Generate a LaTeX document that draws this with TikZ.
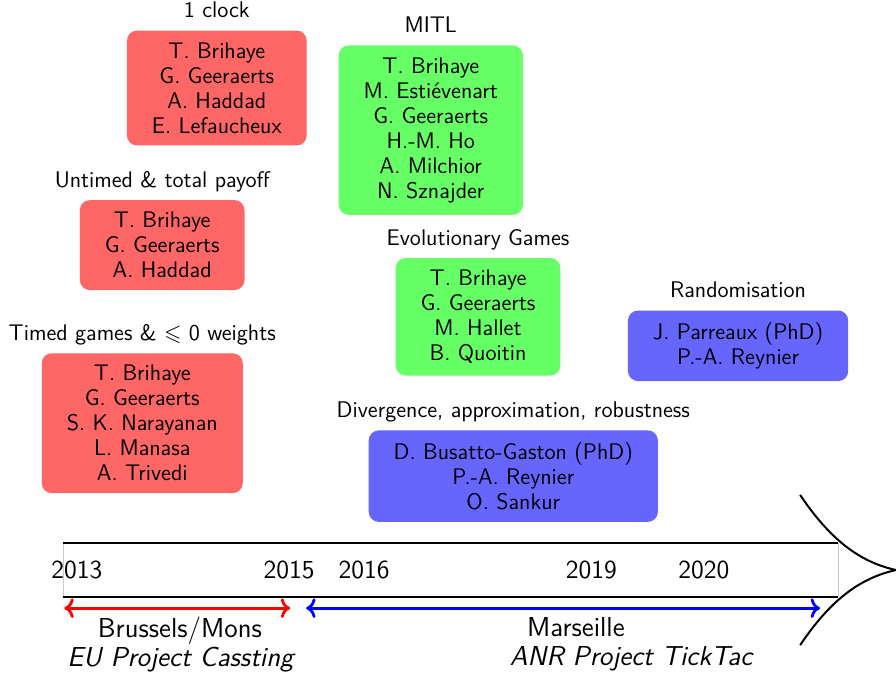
\documentclass[tikz,border=0pt]{standalone}
\usepackage{amsmath, amssymb}
\usepackage{xcolor}
\usepackage{tikz}
\usetikzlibrary{
arrows.meta,
positioning
}
\renewcommand{\familydefault}{\sfdefault}
\definecolor{tlred}{RGB}{255,102,102}
\definecolor{tlgreen}{RGB}{102,255,102}
\definecolor{tlblue}{RGB}{102,102,255}
\tikzset{
  team/.style={rounded corners=5pt, align=center, inner xsep=12.5pt, inner ysep=6pt,
    font=\fontsize{11.3}{12.5}\selectfont},
  topic/.style={inner sep=3pt, text depth=3pt, font=\fontsize{11.3}{12.5}\selectfont},
  yearlabel/.style={anchor=base, font=\fontsize{13}{15}\selectfont},
  place/.style={anchor=base, font=\fontsize{13.7}{15}\selectfont}
}

\begin{document}
\begin{tikzpicture}
  \useasboundingbox (0,0) rectangle (15.745,11.827);
  % Brussels/Mons collaborations
  \node[team, fill=tlred] (clock) at (3.81,10.28) {T. Brihaye\\G. Geeraerts\\A. Haddad\\E. Lefaucheux};
  \node[topic, above=0pt of clock] (clockT) {1 clock};
  \node[team, fill=tlred] (untimed) at (2.85,7.52) {T. Brihaye\\G. Geeraerts\\A. Haddad};
  \node[topic, above=0pt of untimed] (untimedT) {Untimed \& total payoff};
  \node[team, fill=tlred] (timed) at (2.50,4.39) {T. Brihaye\\G. Geeraerts\\S. K. Narayanan\\L. Manasa\\A. Trivedi};
  \node[topic, above=0pt of timed] (timedT) {Timed games \& $\leqslant$ 0 weights};
  % Both sites
  \node[team, fill=tlgreen] (mitl) at (7.57,9.54) {T. Brihaye\\M. Estiévenart\\G. Geeraerts\\H.-M. Ho\\A. Milchior\\N. Sznajder};
  \node[topic, above=0pt of mitl] (mitlT) {MITL};
  \node[team, fill=tlgreen] (evol) at (8.40,6.26) {T. Brihaye\\G. Geeraerts\\M. Hallet\\B. Quoitin};
  \node[topic, above=0pt of evol] (evolT) {Evolutionary Games};
  % Marseille collaborations
  \node[team, fill=tlblue] (diverg) at (9.02,3.46) {D. Busatto-Gaston (PhD)\\P.-A. Reynier\\O. Sankur};
  \node[topic, above=0pt of diverg] (divergT) {Divergence, approximation, robustness};
  \node[team, fill=tlblue] (random) at (12.97,5.75) {J. Parreaux (PhD)\\P.-A. Reynier};
  \node[topic, above=0pt of random] (randomT) {Randomisation};
  % Time line
  \coordinate (barSW) at (1.11,1.34);
  \coordinate (barSE) at (14.73,1.34);
  \coordinate (barNW) at (1.11,2.28);
  \coordinate (barNE) at (14.73,2.28);
  \coordinate (tip) at (15.745,1.81);
  \draw[gray!40, thin] (barSW) rectangle (barNE);
  \draw[line width=1pt] (barNW) -- (barNE) (barSW) -- (barSE);
  \draw[line width=1pt] (14.06,3.13) .. controls (14.59,2.34) and (15.11,1.95) .. (tip)
    .. controls (15.11,1.67) and (14.59,1.28) .. (14.06,0.49);
  \node[yearlabel] (y2013) at (1.35,1.67) {2013};
  \node[yearlabel] (y2015) at (5.08,1.67) {2015};
  \node[yearlabel] (y2016) at (6.40,1.67) {2016};
  \node[yearlabel] (y2019) at (10.39,1.67) {2019};
  \node[yearlabel] (y2020) at (12.37,1.67) {2020};
  % Periods
  \coordinate (cassS) at (1.13,1.14);
  \coordinate (cassE) at (5.10,1.14);
  \coordinate (tickS) at (5.38,1.14);
  \coordinate (tickE) at (14.41,1.14);
  \draw[red, line width=1.4pt, <->] (cassS) -- (cassE);
  \draw[blue, line width=1.4pt, <->] (tickS) -- (tickE);
  \node[place] (brussels) at (3.16,0.63) {Brussels/Mons};
  \node[place] (cassting) at (3.17,0.12) {\itshape EU Project Cassting};
  \node[place] (marseille) at (10.12,0.65) {Marseille};
  \node[place] (ticktac) at (11.09,0.14) {\itshape ANR Project TickTac};
\end{tikzpicture}
\end{document}
